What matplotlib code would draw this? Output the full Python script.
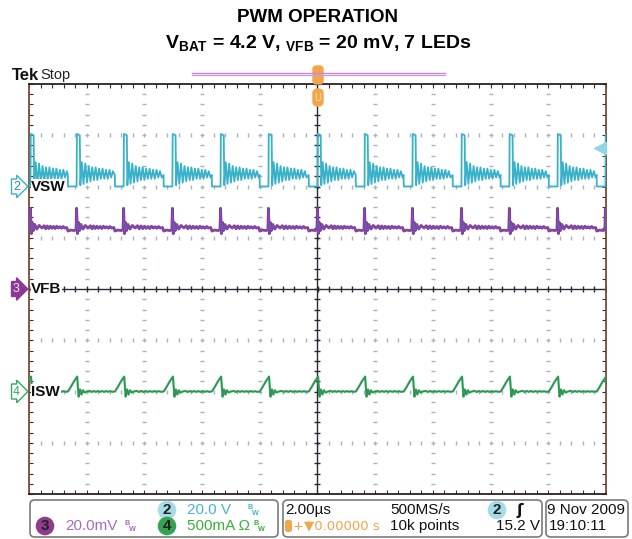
#!/usr/bin/env python3
"""Scope capture: PWM operation, VSW / VFB / ISW traces."""

import numpy as np
import matplotlib

matplotlib.use("Agg")
import matplotlib.pyplot as plt
import matplotlib.transforms as mtrans
from matplotlib.patches import FancyBboxPatch

# --- data ---------------------------------------------------------------
# rising edges of VSW (switch turn-off), in us
edge_times = [-9.95, -8.35, -6.72, -5.03, -3.36, -1.70, 0.0, 1.63, 3.29, 4.99, 6.65, 8.32, 9.98]
on_time = 0.30  # us, VSW low before each edge

# VSW pulse right after each edge (us offset, volts)
vsw_pulse_dt = [0.0, 0.01, 0.11, 0.13]
vsw_pulse_v = [0.0, 20.5, 20.0, 0.5]
# ringing after the pulse, one value every half ring period
ring_start = 0.18
ring_step = 0.06
vsw_ring_v = [9.5, 1.0, 9.0, 1.5, 8.0, 2.0, 7.5, 2.5, 7.5, 2.5,
              7.0, 3.0, 7.0, 3.0, 6.5, 3.0, 6.5, 3.5, 6.0, 3.5]

# VFB around each edge (us offset, mV)
vfb_dt = [-0.34, -0.30, -0.20, -0.08, -0.02, 0.0, 0.03, 0.06, 0.10, 0.15, 0.22, 0.30, 0.40]
vfb_mv = [24.0, 22.6, 23.0, 22.8, 23.2, 31.5, 21.6, 26.0, 22.8, 25.2, 23.4, 24.8, 23.8]
# small ripple on VFB between spikes
vfb_ripple_mv = [24.7, 23.5, 24.6, 23.6, 24.5, 23.7, 24.4, 23.6, 24.5, 23.8, 24.3, 23.7, 24.4, 23.8]

# ISW around each edge (us offset, mA)
isw_dt = [-0.30, -0.20, -0.10, 0.0, 0.02, 0.07, 0.12, 0.17, 0.22, 0.28, 0.36]
isw_ma = [0.0, 45.0, 95.0, 138.0, 145.0, -50.0, 20.0, -30.0, 12.0, -10.0, 0.0]
isw_ripple_ma = [6.0, -5.0, 5.0, -4.0, 5.0, -4.0, 4.0, -4.0, 4.0, -3.0, 3.0, -3.0]

# channel settings: units/div and ground offset (div)
vsw_scale, vsw_offset = 20.0, 2.0
vfb_scale, vfb_offset = 20.0, 0.0
isw_scale, isw_offset = 500.0, -2.0
trig_level = 15.2

VSW_C = "#38b2c8"
VFB_C = "#8a3a96"
ISW_C = "#34a85c"
SANS = ["Liberation Sans", "DejaVu Sans"]


def build_vsw():
    ts, vs = [], []
    for i, e in enumerate(edge_times):
        ts += [e - on_time - 0.005, e - on_time]
        vs += [4.5, 0.0]
        ts += [e + d for d in vsw_pulse_dt]
        vs += vsw_pulse_v
        nxt = edge_times[i + 1] if i + 1 < len(edge_times) else e + 1.66
        for k, v in enumerate(vsw_ring_v):
            t = e + ring_start + k * ring_step
            if t < nxt - on_time - 0.02:
                ts.append(t)
                vs.append(v)
    return np.array(ts), np.array(vs)


def build_around(dts, vals, ripple, gap_start, gap_end):
    ts, vs = [], []
    for i, e in enumerate(edge_times):
        ts += [e + d for d in dts]
        vs += vals
        nxt = edge_times[i + 1] if i + 1 < len(edge_times) else e + 1.66
        a, b = e + gap_start, nxt - gap_end
        n = len(ripple)
        for k, v in enumerate(ripple):
            t = a + (b - a) * (k + 1) / (n + 1)
            ts.append(t)
            vs.append(v)
    return np.array(ts), np.array(vs)


t_vsw, v_vsw = build_vsw()
t_vfb, v_vfb = build_around(vfb_dt, vfb_mv, vfb_ripple_mv, 0.42, 0.36)
t_isw, v_isw = build_around(isw_dt, isw_ma, isw_ripple_ma, 0.38, 0.32)

# --- figure --------------------------------------------------------------
W, H = 632, 539
fig = plt.figure(figsize=(W / 100, H / 100), dpi=100)
plt.rcParams["mathtext.fontset"] = "custom"
plt.rcParams["mathtext.rm"] = "Liberation Sans:bold"
plt.rcParams["mathtext.bf"] = "Liberation Sans:bold"


def fx(px):
    return px / W


def fy(py):
    return 1 - py / H


ax = fig.add_axes([fx(29), fy(494), fx(606) - fx(29), fy(84) - fy(494)])
ax.set_xlim(-10, 10)
ax.set_ylim(-4, 4)

# graticule
minor_x = np.arange(-10, 10.001, 0.4)
minor_y = np.arange(-4, 4.001, 0.2)
for gx in [-8, -6, -4, -2, 2, 4, 6, 8]:
    ax.plot(np.full_like(minor_y, gx), minor_y, ls="none", marker="_", ms=3,
            mew=1.0, color="#a8b2bc", zorder=1)
for gy in [-3, -2, -1, 1, 2, 3]:
    ax.plot(minor_x, np.full_like(minor_x, gy), ls="none", marker="|", ms=3,
            mew=1.0, color="#a8b2bc", zorder=1)
ax.axhline(0, color="#2a2a34", lw=1.0, zorder=2)
ax.axvline(0, color="#2a2a34", lw=1.0, zorder=2)
ax.plot(minor_x, np.zeros_like(minor_x), ls="none", marker="|", ms=5, mew=1.0,
        color="#2a2a34", zorder=2)
ax.plot(np.zeros_like(minor_y), minor_y, ls="none", marker="_", ms=5, mew=1.0,
        color="#2a2a34", zorder=2)

ax.set_xticks(np.arange(-10, 10.001, 2))
ax.set_xticks(minor_x, minor=True)
ax.set_yticks(np.arange(-4, 4.001, 1))
ax.set_yticks(minor_y, minor=True)
ax.tick_params(which="both", direction="in", length=3, width=0.8, color="#3a3030",
               top=True, right=True, labelbottom=False, labelleft=False)
for side, sp in ax.spines.items():
    sp.set_linewidth(1.3)
    sp.set_color("#2a2220" if side in ("top", "bottom") else "#7a4a34")

# traces
ax.plot(t_vsw, vsw_offset + v_vsw / vsw_scale, color=VSW_C, lw=1.3, zorder=4)
ax.plot(t_vfb, vfb_offset + v_vfb / vfb_scale, color=VFB_C, lw=2.0, zorder=4)
ax.plot(t_vfb, vfb_offset + v_vfb / vfb_scale, color="#6a62c0", lw=0.6, alpha=0.7, zorder=4)
ax.plot(t_isw, isw_offset + v_isw / isw_scale, color=ISW_C, lw=1.6, zorder=4)
ax.plot(t_isw, isw_offset + v_isw / isw_scale, color="#2a6a44", lw=0.4, alpha=0.6, zorder=4)

# trigger level marker on the right
ax.plot([9.8], [vsw_offset + trig_level / vsw_scale], marker="<", ms=8,
        color="#8fd6e6", clip_on=False, zorder=5)

# channel labels on the left
blend = mtrans.blended_transform_factory(fig.transFigure, ax.transData)
chans = [("2", vsw_offset, "VSW", "white", VSW_C, "#2a8aa0"),
         ("3", vfb_offset, "VFB", VFB_C, VFB_C, "#f0e0f0"),
         ("4", isw_offset, "ISW", "white", ISW_C, ISW_C)]
for num, off, name, fc, ec, tc in chans:
    ax.text(fx(13), off, num, transform=blend, ha="left", va="center",
            fontsize=9, color=tc, family=SANS,
            bbox=dict(boxstyle="rarrow,pad=0.12", fc=fc, ec=ec, lw=1.0))
    ax.text(-9.92, off, name, ha="left", va="center", fontsize=11,
            fontweight="bold", color="#101010", family=SANS, zorder=6,
            bbox=dict(boxstyle="square,pad=0.05", fc="white", ec="none"))

# header
fig.text(0.503, fy(17), "PWM OPERATION", ha="center", va="center",
         fontsize=13.5, fontweight="bold", family="Liberation Sans")
fig.text(0.503, fy(44),
         r"V$_{\mathrm{BAT}}$ = 4.2 V, $_{\mathrm{VFB}}$ = 20 mV, 7 LEDs",
         ha="center", va="center", fontsize=14, fontweight="bold",
         family="Liberation Sans")
fig.text(fx(12), fy(76), "Tek", ha="left", va="center", fontsize=12,
         fontweight="bold", family=SANS, color="#111111")
fig.text(fx(40), fy(75), "Stop", ha="left", va="center", fontsize=10.5,
         family=SANS, color="#222222")
fig.add_artist(plt.Line2D([fx(192), fx(445)], [fy(73), fy(73)], color="#e87ec4", lw=1.0))
fig.add_artist(plt.Line2D([fx(192), fx(445)], [fy(75), fy(75)], color="#b9a6e2", lw=1.0))
fig.add_artist(FancyBboxPatch((fx(313), fy(84)), fx(10), fy(66) - fy(84),
                              boxstyle="round,pad=0,rounding_size=0.006",
                              fc="#f3a54a", ec="#f3a54a"))
fig.add_artist(FancyBboxPatch((fx(313), fy(106)), fx(10), fy(89) - fy(106),
                              boxstyle="round,pad=0,rounding_size=0.008",
                              fc="#f3a54a", ec="#f3a54a"))
fig.text(fx(318), fy(98), "U", ha="center", va="center", fontsize=7, color="#fbe0b8",
         family=SANS)

# status bar
for x0, x1 in [(30, 278), (283, 542), (546, 628)]:
    fig.add_artist(FancyBboxPatch((fx(x0), fy(537)), fx(x1 - x0), fy(500) - fy(537),
                                  boxstyle="round,pad=0,rounding_size=0.008",
                                  fc="white", ec="#7a7a7a", lw=1.2))

r1, r2 = fy(510), fy(526)
sfont = dict(family=SANS, fontsize=11, va="center")
bw = r"$^{\mathrm{B}}\!_{\mathrm{W}}$"


def badge(x, y, s, fc):
    fig.text(x, y, s, ha="center", color="#202020", fontweight="bold",
             bbox=dict(boxstyle="circle,pad=0.15", fc=fc, ec="none"), **sfont)


badge(fx(167), r1, "2", "#a6dbe8")
fig.text(fx(187), r1, "20.0 V", color="#46b6cf", ha="left", **sfont)
fig.text(fx(247), r1, bw, color="#46b6cf", ha="left", fontsize=7.5, va="center")
badge(fx(45), r2, "3", "#8e3d8e")
fig.text(fx(65), r2, "20.0mV", color="#a46cc4", ha="left", **sfont)
fig.text(fx(124), r2, bw, color="#a46cc4", ha="left", fontsize=7.5, va="center")
badge(fx(167), r2, "4", "#37a352")
fig.text(fx(187), r2, "500mA \u03a9", color="#3cae3c", ha="left", **sfont)
fig.text(fx(253), r2, bw, color="#3cae3c", ha="left", fontsize=7.5, va="center")

fig.text(fx(285), r1, "2.00\u00b5s", color="#111111", ha="left", **sfont)
fig.text(fx(390), r1, "500MS/s", color="#111111", ha="left", **sfont)
badge(fx(497), r1, "2", "#a6dbe8")
fig.text(fx(516), r1, "\u0283", color="#111111", ha="left", fontweight="bold",
         family="DejaVu Sans", fontsize=11, va="center")
fig.add_artist(FancyBboxPatch((fx(285), fy(532)), fx(7), fy(520) - fy(532),
                              boxstyle="round,pad=0,rounding_size=0.004",
                              fc="#f3a54a", ec="none"))
fig.text(fx(293), r2, "+\u25bc0.00000 s", color="#f3a54a", ha="left",
         family=["DejaVu Sans"], fontsize=9.5, va="center")
fig.text(fx(390), r2, "10k points", color="#111111", ha="left", **sfont)
fig.text(fx(540), r2, "15.2 V", color="#111111", ha="right", **sfont)

fig.text(fx(625), r1, "9 Nov 2009", color="#111111", ha="right", **sfont)
fig.text(fx(549), r2, "19:10:11", color="#111111", ha="left", **sfont)

fig.savefig("out.png", dpi=100)
